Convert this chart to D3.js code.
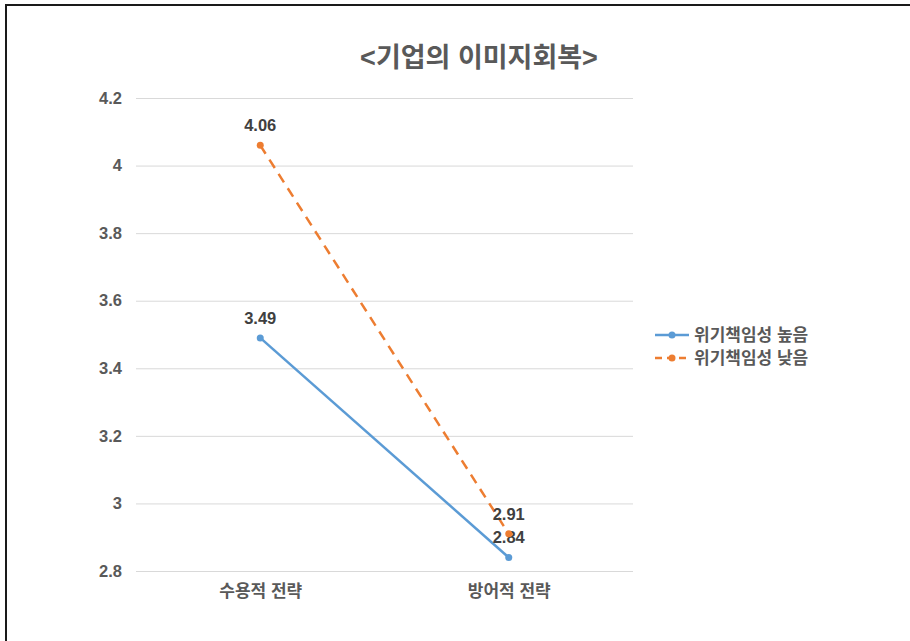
<!DOCTYPE html>
<html>
<head>
<meta charset="utf-8">
<script src="https://cdn.jsdelivr.net/npm/d3@7"></script>
<style>
    body { margin: 0; background: #fff; }
    text { font-family: "Liberation Sans", "Noto Sans CJK KR", sans-serif; font-weight: bold; }
</style>
</head>
<body>
<div class="chart"></div>
<script>
// 데이터
const categories = ['수용적 전략', '방어적 전략'];
const seriesNames = ['위기책임성 높음', '위기책임성 낮음'];
const highValues = [3.49, 2.84];
const lowValues = [4.06, 2.91];
const yTicks = [2.8, 3, 3.2, 3.4, 3.6, 3.8, 4, 4.2];

const seriesColors = ['#5B9BD5', '#ED7D31'];
const series = [
    { name: seriesNames[0], values: highValues, color: seriesColors[0], dash: null },
    { name: seriesNames[1], values: lowValues, color: seriesColors[1], dash: '10,7' }
];

// svg 설정
const svg_width = 910, svg_height = 641;
const margin = { top: 98, bottom: 70, left: 136, right: 277 };
const chart_width = svg_width - margin.left - margin.right;
const chart_height = svg_height - margin.top - margin.bottom;

const svg = d3.select('.chart').append('svg')
    .attr('width', svg_width).attr('height', svg_height);

// 테두리 (위, 왼쪽)
svg.append('path')
    .attr('d', `M6,${svg_height} L6,5 L${svg_width},5`)
    .attr('fill', 'none').attr('stroke', '#1a1a1a').attr('stroke-width', 2);

const g = svg.append('g').attr('transform', `translate(${margin.left},${margin.top})`);

const x = d3.scalePoint().domain(categories).range([0, chart_width]).padding(0.5);
const y = d3.scaleLinear().domain([2.8, 4.2]).range([chart_height, 0]);

// 격자선
const yAxis = d3.axisLeft(y).tickValues(yTicks).tickSize(-chart_width).tickFormat(d3.format('~g'));
g.append('g').call(yAxis)
    .call(a => a.select('.domain').remove())
    .call(a => a.selectAll('line').attr('stroke', '#d9d9d9'))
    .call(a => a.selectAll('text').attr('x', -14).attr('fill', '#595959').style('font-size', '16.5px'));

const xAxis = d3.axisBottom(x).tickSize(0);
g.append('g').attr('transform', `translate(0,${chart_height})`).call(xAxis)
    .call(a => a.select('.domain').remove())
    .call(a => a.selectAll('text').attr('dy', '1.35em').attr('fill', '#595959').style('font-size', '17px'));

// 선
const line = d3.line().x((d, i) => x(categories[i])).y(d => y(d));
series.forEach(s => {
    g.append('path').datum(s.values)
        .attr('d', line)
        .attr('fill', 'none')
        .attr('stroke', s.color).attr('stroke-width', 2.5)
        .attr('stroke-dasharray', s.dash);
    g.selectAll(null).data(s.values).join('circle')
        .attr('cx', (d, i) => x(categories[i])).attr('cy', d => y(d))
        .attr('r', 3.5).attr('fill', s.color);
    g.selectAll(null).data(s.values).join('text')
        .attr('x', (d, i) => x(categories[i])).attr('y', d => y(d) - 14)
        .attr('text-anchor', 'middle')
        .attr('fill', '#404040').style('font-size', '16.5px')
        .text(d => d3.format('.2f')(d));
});

// 제목
svg.append('text')
    .attr('x', 479).attr('y', 67)
    .attr('text-anchor', 'middle')
    .attr('fill', '#595959').style('font-size', '27px')
    .text('<기업의 이미지회복>');

// 범례
const legend = svg.append('g').attr('transform', 'translate(655,335)');
series.forEach((s, i) => {
    const row = legend.append('g').attr('transform', `translate(0,${i * 23})`);
    row.append('line').attr('x1', 0).attr('x2', 34).attr('y1', 0).attr('y2', 0)
        .attr('stroke', s.color).attr('stroke-width', 2.5).attr('stroke-dasharray', s.dash ? '7,5' : null);
    row.append('circle').attr('cx', 17).attr('cy', 0).attr('r', 3.5).attr('fill', s.color);
    row.append('text').attr('x', 39).attr('y', 0).attr('dy', '0.35em')
        .attr('fill', '#595959').style('font-size', '17px')
        .text(s.name);
});
</script>
</body>
</html>
